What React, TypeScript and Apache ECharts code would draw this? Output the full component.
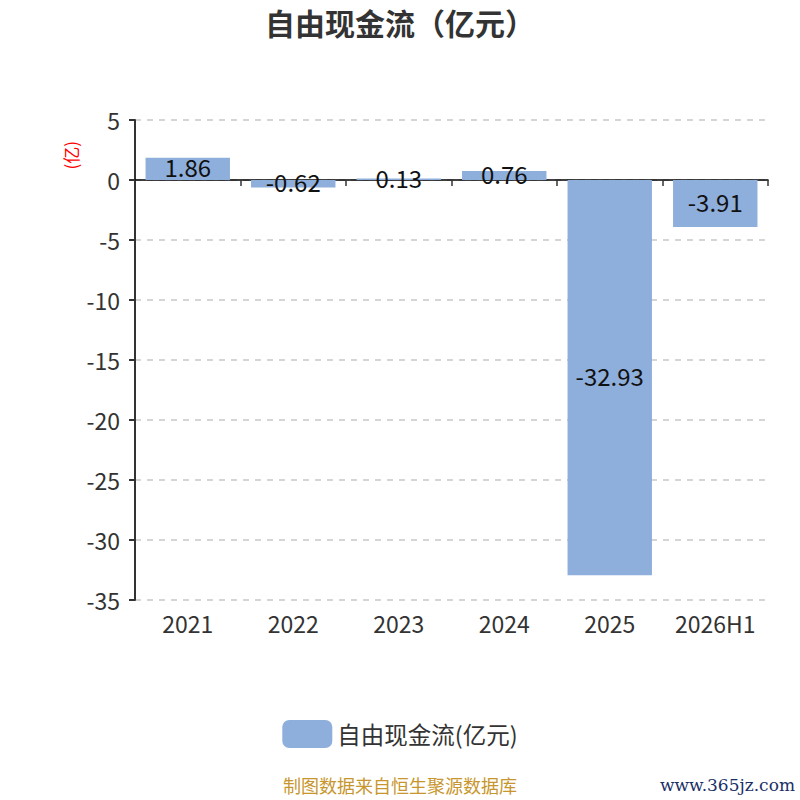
import React, { useEffect, useRef } from "react";
import * as echarts from "echarts";

const categories = ["2021", "2022", "2023", "2024", "2025", "2026H1"];
const values = [1.86, -0.62, 0.13, 0.76, -32.93, -3.91];
const seriesName = "自由现金流(亿元)";
const titleText = "自由现金流（亿元）";
const unitText = "(亿)";
const footerText = "制图数据来自恒生聚源数据库";
const watermarkText = "www.365jz.com";

const FONT = "'Noto Sans CJK SC', 'Noto Sans', sans-serif";

export default function App() {
  const ref = useRef<HTMLDivElement>(null);
  useEffect(() => {
    if (!ref.current) return;
    const chart = echarts.init(ref.current, undefined, { renderer: "svg" });
    chart.setOption({
      animation: false,
      backgroundColor: "#fff",
      textStyle: { fontFamily: FONT },
      title: {
        text: titleText,
        left: "center",
        top: 2,
        textStyle: { fontSize: 30, fontWeight: "bold", color: "#333", fontFamily: FONT },
      },
      grid: { left: 135, right: 32, top: 120, bottom: 200, containLabel: false },
      legend: {
        bottom: 47,
        left: "center",
        itemWidth: 50,
        itemHeight: 28,
        itemGap: 10,
        icon: "roundRect",
        textStyle: { fontSize: 23.5, color: "#333", fontFamily: FONT },
        data: [seriesName],
      },
      xAxis: {
        type: "category",
        data: categories,
        axisLine: { onZero: true, lineStyle: { color: "#000", width: 1.5 } },
        axisTick: { show: true, alignWithLabel: false, length: 6, lineStyle: { color: "#333", width: 1.5 } },
        axisLabel: {
          interval: 0,
          fontSize: 23,
          color: "#333",
          margin: 11,
        },
      },
      yAxis: {
        type: "value",
        min: -35,
        max: 5,
        interval: 5,
        axisLine: { show: true, lineStyle: { color: "#333", width: 2 } },
        axisTick: { show: true, length: 6, lineStyle: { color: "#333", width: 2 } },
        axisLabel: { fontSize: 23, color: "#333", margin: 15 },
        splitLine: { show: true, lineStyle: { type: [6, 6], color: "#c8c8c8", width: 1.5 } },
      },
      graphic: [
        {
          type: "text",
          left: 62,
          top: 141,
          rotation: Math.PI / 2,
          style: { text: unitText, fill: "#ff0000", fontSize: 17, fontFamily: FONT },
        },
        {
          type: "text",
          left: 283,
          top: 776,
          style: { text: footerText, fill: "#c8962e", fontSize: 18, fontFamily: FONT },
        },
        {
          type: "text",
          right: 5,
          top: 776,
          style: { text: watermarkText, fill: "#1a2f66", fontSize: 17, fontFamily: "'DejaVu Serif', serif" },
        },
      ],
      series: [
        {
          name: seriesName,
          type: "bar",
          data: values,
          barWidth: "80%",
          itemStyle: { color: "#8eaedb" },
          label: {
            show: true,
            position: "inside",
            fontSize: 24,
            color: "#111",
            fontFamily: FONT,
            offset: [0, -2],
          },
        },
      ],
    });
    return () => chart.dispose();
  }, []);
  return (
    <div
      ref={ref}
      style={{ position: "absolute", left: 0, top: 0, width: 800, height: 800 }}
    />
  );
}
